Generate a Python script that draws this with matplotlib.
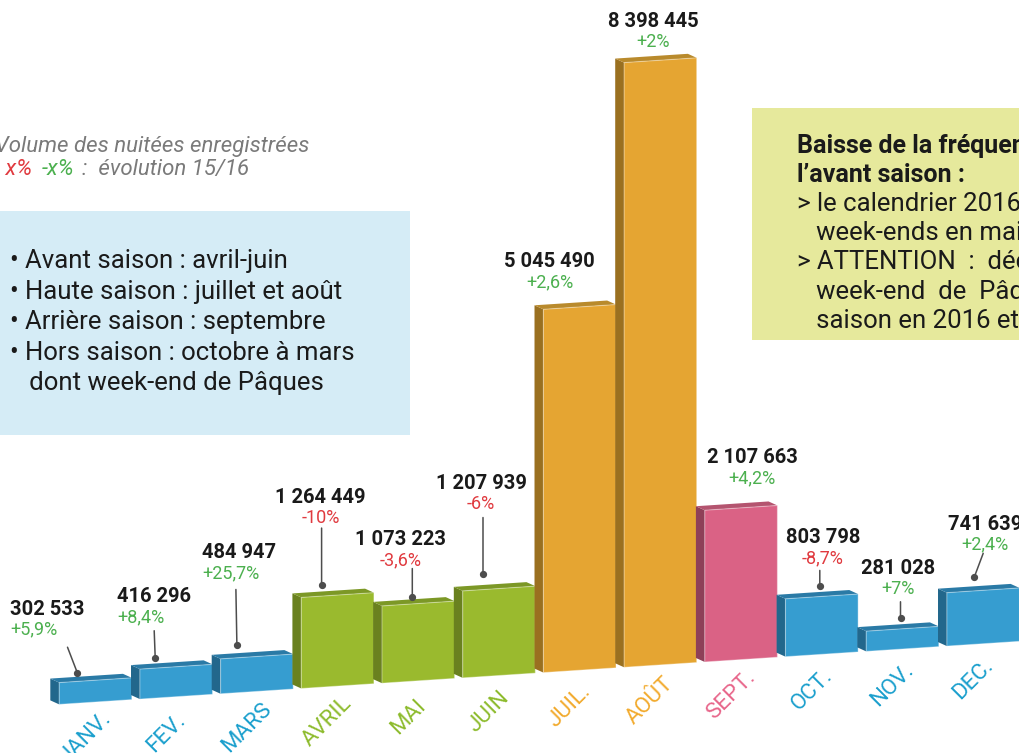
import numpy as np
import matplotlib.pyplot as plt
from matplotlib.transforms import Affine2D, offset_copy
from matplotlib.patches import Rectangle

plt.rcParams['font.family'] = ['Roboto', 'DejaVu Sans']

months = ["JANV.", "FEV.", "MARS", "AVRIL", "MAI", "JUIN",
          "JUIL.", "AOÛT", "SEPT.", "OCT.", "NOV.", "DEC."]
nights = [302533, 416296, 484947, 1264449, 1073223, 1207939,
          5045490, 8398445, 2107663, 803798, 281028, 741639]
evolution = [5.9, 8.4, 25.7, -10, -3.6, -6, 2.6, 2, 4.2, -8.7, 7, 2.4]
seasons = ["hors", "hors", "hors", "avant", "avant", "avant",
           "haute", "haute", "arriere", "hors", "hors", "hors"]

legend_lines = ["• Avant saison : avril-juin",
                "• Haute saison : juillet et août",
                "• Arrière saison : septembre",
                "• Hors saison : octobre à mars",
                "   dont week-end de Pâques"]
note_title = ["Baisse de la fréquentation sur", "l’avant saison :"]
note_lines = ["> le calendrier 2016 comptait moins de",
              "   week-ends en mai",
              "> ATTENTION  :  décalage du",
              "   week-end  de  Pâques en avant",
              "   saison en 2016 et en hors saison en 2015"]

# front, side, top, label colour per season
palette = {
    "hors":    ("#369dd0", "#22678c", "#2a7aa6", "#1a9fcd"),
    "avant":   ("#9aba2e", "#6a811f", "#7c9826", "#8dbb2c"),
    "haute":   ("#e5a532", "#9a7020", "#b98a2c", "#f2aa2c"),
    "arriere": ("#da6285", "#8e4058", "#b4546f", "#e8668b"),
}
green, red = "#4cb04f", "#e03a3f"

# text placement in pixels from the top centre of each bar: (dx, dy, ha)
label_pos = [(-85, 71, 'left'), (-59, 70, 'left'), (-55, 104, 'left'),
             (-17, 98, 'center'), (-18, 64, 'center'), (-18, 105, 'center'),
             (-30, 45, 'center'), (-7, 39, 'center'), (11, 50, 'center'),
             (1, 59, 'center'), (-4, 60, 'center'), (2, 66, 'center')]
# leader lines (top dx, top dy, dot dx, dot dy)
leaders = [(-28, 33, -18, 7), (-22, 36, -21, 9), (-21, 67, -20, 11),
           (-16, 67, -16, 10), (-6, 35, -6, 7), (-16, 71, -16, 15),
           None, None, None,
           (-2, 26, -2, 10), (-2, 27, -2, 11), (0, 37, -9, 13)]

W, H = 1019, 753
fig = plt.figure(figsize=(W / 100, H / 100), dpi=100)
ax = fig.add_axes([0, 0, 1, 1])

# rising floor: each month sits a little higher than the previous one
tilt = Affine2D(np.array([[1, 0, 0], [73600, 1, 0], [0, 0, 1]], float))
tr = tilt + ax.transData

x = np.arange(len(months))
bars = ax.bar(x, nights, width=0.9, transform=tr)
ddx, ddy = -0.11, 64000

for i, r in enumerate(bars.patches):
    front, side, top, _ = palette[seasons[i]]
    x0, w, h = r.get_x(), r.get_width(), r.get_height()
    ax.fill([x0, x0, x0 + ddx, x0 + ddx], [0, h, h + ddy, ddy],
            color=side, transform=tr, zorder=3 * i + 1, lw=0)
    ax.fill([x0, x0 + w, x0 + w + ddx, x0 + ddx], [h, h, h + ddy, h + ddy],
            color=top, transform=tr, zorder=3 * i + 2, lw=0)
    r.set_facecolor(front)
    r.set_edgecolor((1, 1, 1, 0.35))
    r.set_linewidth(0.8)
    r.set_zorder(3 * i + 3)

ax.set_xlim(-95.5 / 80.7, 11 + (W - 983.2) / 80.7)
ax.set_ylim(-(H - 702) / 72e-6, 702 / 72e-6)
ax.axis('off')


def shifted(dx, dy):
    return offset_copy(tr, fig=fig, x=dx, y=dy, units='dots')


for i, (m, v, e) in enumerate(zip(months, nights, evolution)):
    dx, dy, ha = label_pos[i]
    ax.text(i, v, f"{v:,}".replace(",", " "), transform=shifted(dx, dy),
            ha=ha, va='center', fontsize=14.5, fontweight='bold',
            color='#1a1a1a', zorder=50)
    pct = f"{e:+g}".replace(".", ",") + "%"
    ax.text(i, v, pct, transform=shifted(dx, dy - 20.5), ha=ha, va='center',
            fontsize=13, color=green if e > 0 else red, zorder=50)
    if leaders[i] is not None:
        tx, ty, px_, py_ = leaders[i]
        ax.annotate('', xy=(i, v), xycoords=shifted(px_, py_),
                    xytext=(i, v), textcoords=shifted(tx, ty),
                    arrowprops=dict(arrowstyle='-', color='#4d4d4d', lw=1.1,
                                    shrinkA=0, shrinkB=0), zorder=60)
        ax.plot(i, v, 'o', ms=4.2, color='#4d4d4d', transform=shifted(px_, py_),
                zorder=61)
    ax.text(i, 0, m, transform=shifted(-10, -36), rotation=45,
            rotation_mode='anchor', ha='center', va='center', fontsize=16,
            color=palette[seasons[i]][3], zorder=50)


def px(xp, yp):
    return xp / W, 1 - yp / H


# note top left
fs_note = 16
fig.text(*px(-5, 152), "Volume des nuitées enregistrées", fontsize=fs_note,
         fontstyle='italic', color='#7a7a7a')
fig.text(*px(-6, 175), "- x%", fontsize=fs_note, fontstyle='italic',
         color=red)
fig.text(*px(42, 175), "-x%", fontsize=fs_note, fontstyle='italic',
         color=green)
fig.text(*px(82, 175), ":  évolution 15/16", fontsize=fs_note,
         fontstyle='italic', color='#7a7a7a')

# season box
fig.add_artist(Rectangle(px(0, 435), 410 / W, 224 / H, transform=fig.transFigure,
                         color='#d5ecf6', lw=0, zorder=1))
for k, line in enumerate(legend_lines):
    fig.text(*px(10, 268 + 30.5 * k), line, fontsize=18.5, color='#1a1a1a',
             zorder=2)

# comment box
fig.add_artist(Rectangle(px(752, 340), (W - 752) / W, 232 / H,
                         transform=fig.transFigure, color='#e6e99c', lw=0,
                         zorder=1))
for k, line in enumerate(note_title):
    fig.text(*px(797, 153 + 29.2 * k), line, fontsize=18, fontweight='bold',
             color='#1a1a1a', zorder=2)
for k, line in enumerate(note_lines):
    fig.text(*px(797, 211 + 29.2 * k), line, fontsize=18.5, color='#1a1a1a',
             zorder=2)

fig.savefig('out.png', dpi=100)
